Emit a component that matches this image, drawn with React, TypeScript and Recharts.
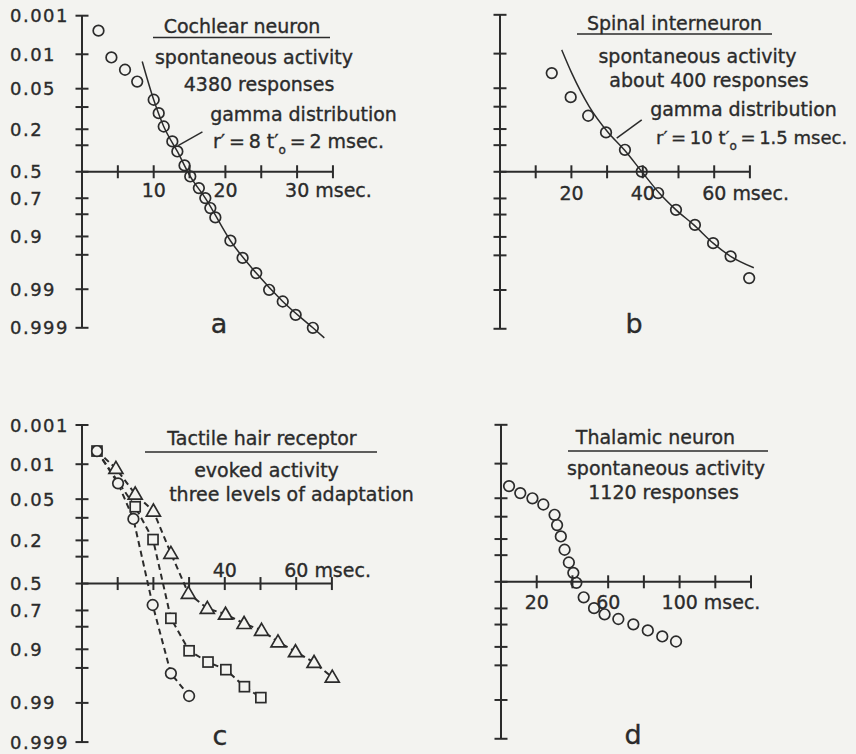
import React from "react";
import {
  ComposedChart,
  Line,
  Scatter,
  XAxis,
  YAxis,
  ReferenceLine,
  ReferenceDot,
} from "recharts";

const INK = "#2b2b2b";
const PAPER = "#f3f3f0";
const FONT = "'DejaVu Sans', sans-serif";

// probability-paper scale (0.001 .. 0.999)
const probTicks = [0.001, 0.01, 0.05, 0.1, 0.2, 0.3, 0.5, 0.7, 0.8, 0.9, 0.95, 0.99, 0.999];
const probLabels = ["0.001", "0.01", "0.05", "", "0.2", "", "0.5", "0.7", "", "0.9", "", "0.99", "0.999"];

// a: cochlear neuron
const cochlearMs = [2.3, 4.1, 6.0, 7.7, 10.0, 10.7, 11.4, 12.6, 13.3, 14.3, 15.1, 16.3, 17.2, 17.9, 18.6, 20.7, 22.4, 24.3, 26.1, 28.0, 29.8, 32.2];
const cochlearP = [0.0026, 0.0118, 0.0217, 0.037, 0.077, 0.123, 0.185, 0.274, 0.344, 0.45, 0.537, 0.627, 0.699, 0.764, 0.817, 0.914, 0.956, 0.9776, 0.9903, 0.9949, 0.9977, 0.999];
const cochlearFitMs = [8.4, 10.0, 11.4, 13.3, 15.1, 17.2, 20.7, 24.3, 28.0, 32.2, 33.8];
const cochlearFitP = [0.0145, 0.077, 0.185, 0.344, 0.537, 0.699, 0.914, 0.9776, 0.9949, 0.999, 0.9995];
const cochlearLeaderMs = [16.8, 13.4];
const cochlearLeaderP = [0.215, 0.303];

// b: spinal interneuron
const spinalMs = [14.5, 19.8, 24.7, 29.7, 35.0, 39.7, 44.3, 49.3, 54.6, 59.7, 64.6, 69.8];
const spinalP = [0.026, 0.0708, 0.135, 0.219, 0.3325, 0.498, 0.662, 0.773, 0.852, 0.92, 0.952, 0.9818];
const spinalFitMs = [17.3, 20.1, 25.0, 30.3, 34.8, 39.7, 44.6, 49.3, 54.3, 59.7, 64.6, 71.1];
const spinalFitP = [0.0082, 0.026, 0.0994, 0.2195, 0.3325, 0.498, 0.662, 0.773, 0.852, 0.92, 0.952, 0.9706];
const spinalLeaderMs = [39.7, 32.7];
const spinalLeaderP = [0.153, 0.254];

// c: tactile hair receptor, three levels of adaptation
const hairFastMs = [4.2, 10.1, 14.4, 19.8, 24.9, 30.0];
const hairFastP = [0.0049, 0.0254, 0.104, 0.662, 0.96, 0.9858];
const hairMidMs = [4.2, 14.9, 19.9, 24.9, 30.0, 35.3, 40.3, 45.5, 50.1];
const hairMidP = [0.0049, 0.0672, 0.1955, 0.751, 0.905, 0.937, 0.9534, 0.9778, 0.9869];
const hairSlowMs = [4.2, 9.5, 14.9, 20.0, 24.9, 29.8, 35.1, 40.2, 45.4, 50.3, 54.9, 59.8, 65.0, 70.1];
const hairSlowP = [0.0049, 0.0124, 0.0405, 0.0788, 0.278, 0.576, 0.686, 0.725, 0.782, 0.819, 0.872, 0.908, 0.938, 0.966];

// d: thalamic neuron
const thalamicMs = [4.5, 10.8, 17.6, 23.7, 30.0, 31.4, 33.5, 35.6, 38.0, 40.5, 42.2, 46.3, 52.1, 58.0, 65.7, 74.1, 82.2, 90.3, 98.0];
const thalamicP = [0.0298, 0.0404, 0.0501, 0.064, 0.0936, 0.132, 0.186, 0.264, 0.352, 0.43, 0.508, 0.62, 0.698, 0.739, 0.768, 0.799, 0.831, 0.859, 0.88];

// inverse normal cdf (Acklam) -> probit position
const probit = (p: number) => {
  const a = [-39.69683028665376, 220.9460984245205, -275.9285104469687, 138.357751867269, -30.66479806614716, 2.506628277459239];
  const b = [-54.47609879822406, 161.5858368580409, -155.6989798598866, 66.80131188771972, -13.28068155288572];
  const c = [-0.007784894002430293, -0.3223964580411365, -2.400758277161838, -2.549732539343734, 4.374664141464968, 2.938163982698783];
  const d = [0.007784695709041462, 0.3224671290700398, 2.445134137142996, 3.754408661907416];
  const lo = 0.02425;
  if (p < lo) {
    const q = Math.sqrt(-2 * Math.log(p));
    return (((((c[0] * q + c[1]) * q + c[2]) * q + c[3]) * q + c[4]) * q + c[5]) / ((((d[0] * q + d[1]) * q + d[2]) * q + d[3]) * q + 1);
  }
  if (p > 1 - lo) {
    const q = Math.sqrt(-2 * Math.log(1 - p));
    return -(((((c[0] * q + c[1]) * q + c[2]) * q + c[3]) * q + c[4]) * q + c[5]) / ((((d[0] * q + d[1]) * q + d[2]) * q + d[3]) * q + 1);
  }
  const q = p - 0.5;
  const r = q * q;
  return ((((((a[0] * r + a[1]) * r + a[2]) * r + a[3]) * r + a[4]) * r + a[5]) * q) / (((((b[0] * r + b[1]) * r + b[2]) * r + b[3]) * r + b[4]) * r + 1);
};

type Pt = { x: number; z: number };
const toPts = (ms: number[], p: number[]): Pt[] => ms.map((x, i) => ({ x, z: probit(p[i]) }));

const zTicks = probTicks.map(probit);

const ProbTick = (props: any) => {
  const { x, y, payload, showLabel } = props;
  const i = zTicks.findIndex((t) => Math.abs(t - payload.value) < 1e-6);
  const label = probLabels[i];
  return (
    <g>
      <line x1={x - 6.5} x2={x + 6.5} y1={y} y2={y} stroke={INK} strokeWidth={2} />
      {showLabel && label ? (
        <text
          x={x - 72}
          y={y + 6.5}
          fontSize={18}
          fontFamily={FONT}
          fill={INK}
          stroke={INK}
          strokeWidth={0.35}
          letterSpacing={1.5}
        >
          {label}
        </text>
      ) : null}
    </g>
  );
};

const XTick = ({ cx, cy, label, dy }: { cx: number; cy: number; label?: string; dy: number }) => {
  const numLen = label ? label.split(" ")[0].length : 0;
  return (
    <g>
      <line x1={cx} x2={cx} y1={cy - 6.5} y2={cy + 6.5} stroke={INK} strokeWidth={2} />
      {label ? (
        <text
          x={cx - numLen * 6}
          y={cy + dy}
          fontSize={19}
          fontFamily={FONT}
          fill={INK}
          stroke={INK}
          strokeWidth={0.35}
          style={{ whiteSpace: "pre" }}
        >
          {label}
        </text>
      ) : null}
    </g>
  );
};

const openCircle = (p: any) => (
  <circle key={`c${p.index}`} cx={p.cx} cy={p.cy} r={5.3} fill="none" stroke={INK} strokeWidth={1.7} />
);
const paperCircle = (p: any) => (
  <circle key={`c${p.index}`} cx={p.cx} cy={p.cy} r={5.3} fill={PAPER} stroke={INK} strokeWidth={1.7} />
);
const paperSquare = (p: any) => (
  <rect key={`s${p.index}`} x={p.cx - 5} y={p.cy - 5} width={10} height={10} fill={PAPER} stroke={INK} strokeWidth={1.7} />
);
const paperTriangle = (p: any) =>
  p.index === 0 ? (
    <g key={`t${p.index}`} />
  ) : (
    <polygon
      key={`t${p.index}`}
      points={`${p.cx},${p.cy - 7} ${p.cx + 7},${p.cy + 5} ${p.cx - 7},${p.cy + 5}`}
      fill={PAPER}
      stroke={INK}
      strokeWidth={1.7}
    />
  );

interface PanelCfg {
  axisX: number;
  zeroY: number;
  pxZ: number;
  pxX: number;
  xMax: number;
  axisEnd: number;
  xTicks: number[];
  xLabels: Record<number, string>;
  labelDy: number;
  showY: boolean;
}

const RIGHT = 80;

const Panel = ({ cfg, children }: { cfg: PanelCfg; children: React.ReactNode }) => {
  const h = 7 * cfg.pxZ;
  const w = 82 + cfg.xMax * cfg.pxX + RIGHT;
  return (
    <div style={{ position: "absolute", left: cfg.axisX - 82, top: cfg.zeroY - h / 2 }}>
      <ComposedChart width={w} height={h} margin={{ top: 0, right: RIGHT, bottom: 0, left: 0 }}>
        <XAxis type="number" dataKey="x" domain={[0, cfg.xMax]} hide />
        <YAxis
          type="number"
          dataKey="z"
          domain={[-3.5, 3.5]}
          reversed
          width={82}
          ticks={zTicks}
          interval={0}
          axisLine={false}
          tickLine={false}
          tickSize={0}
          tickMargin={0}
          tick={(p: any) => <ProbTick {...p} showLabel={cfg.showY} />}
        />
        <ReferenceLine
          segment={[{ x: 0, y: zTicks[0] }, { x: 0, y: zTicks[zTicks.length - 1] }]}
          stroke={INK}
          strokeWidth={2}
          ifOverflow="visible"
        />
        <ReferenceLine
          segment={[{ x: 0, y: 0 }, { x: cfg.axisEnd, y: 0 }]}
          stroke={INK}
          strokeWidth={2}
          ifOverflow="visible"
        />
        {cfg.xTicks.map((t) => (
          <ReferenceDot
            key={`xt${t}`}
            x={t}
            y={0}
            r={0}
            ifOverflow="visible"
            shape={(p: any) => <XTick cx={p.cx} cy={p.cy} label={cfg.xLabels[t]} dy={cfg.labelDy} />}
          />
        ))}
        {children}
      </ComposedChart>
    </div>
  );
};

const leader = (ms: number[], p: number[]) => [
  { x: ms[0], y: probit(p[0]) },
  { x: ms[1], y: probit(p[1]) },
];

const txt = { fontFamily: FONT, fontSize: 19, fill: INK, stroke: INK, strokeWidth: 0.35 };

const App = () => {
  const cfgA: PanelCfg = {
    axisX: 82, zeroY: 172, pxZ: 50.5, pxX: 7.17, xMax: 36, axisEnd: 35,
    xTicks: [5, 10, 15, 20, 25, 30, 35], xLabels: { 10: "10", 20: "20", 30: "30 msec." }, labelDy: 25, showY: true,
  };
  const cfgB: PanelCfg = {
    axisX: 500, zeroY: 172, pxZ: 50.8, pxX: 3.57, xMax: 72, axisEnd: 70,
    xTicks: [10, 20, 30, 40, 50, 60, 70], xLabels: { 20: "20", 40: "40", 60: "60 msec." }, labelDy: 28, showY: false,
  };
  const cfgC: PanelCfg = {
    axisX: 82, zeroY: 583.5, pxZ: 51.3, pxX: 3.57, xMax: 72, axisEnd: 70,
    xTicks: [10, 20, 30, 40, 50, 60, 70], xLabels: { 40: "40", 60: "60 msec." }, labelDy: -6.5, showY: true,
  };
  const cfgD: PanelCfg = {
    axisX: 501, zeroY: 582, pxZ: 50.8, pxX: 1.786, xMax: 144, axisEnd: 140,
    xTicks: [20, 40, 60, 80, 100, 120, 140], xLabels: { 20: "20", 60: "60", 100: "100 msec." }, labelDy: 27.5, showY: false,
  };

  return (
    <div
      style={{
        position: "absolute",
        left: 0,
        top: 0,
        width: 856,
        height: 754,
        overflow: "hidden",
        background: PAPER,
        fontFamily: FONT,
      }}
    >
      <Panel cfg={cfgA}>
        <ReferenceLine segment={leader(cochlearLeaderMs, cochlearLeaderP)} stroke={INK} strokeWidth={1.5} ifOverflow="visible" />
        <Line data={toPts(cochlearFitMs, cochlearFitP)} dataKey="z" type="monotone" stroke={INK} strokeWidth={1.5} dot={false} isAnimationActive={false} />
        <Scatter data={toPts(cochlearMs, cochlearP)} shape={openCircle} isAnimationActive={false} />
      </Panel>

      <Panel cfg={cfgB}>
        <ReferenceLine segment={leader(spinalLeaderMs, spinalLeaderP)} stroke={INK} strokeWidth={1.5} ifOverflow="visible" />
        <Line data={toPts(spinalFitMs, spinalFitP)} dataKey="z" type="monotone" stroke={INK} strokeWidth={1.5} dot={false} isAnimationActive={false} />
        <Scatter data={toPts(spinalMs, spinalP)} shape={openCircle} isAnimationActive={false} />
      </Panel>

      <Panel cfg={cfgC}>
        <Line data={toPts(hairSlowMs, hairSlowP)} dataKey="z" type="linear" stroke={INK} strokeWidth={2} strokeDasharray="6 4" dot={paperTriangle} isAnimationActive={false} />
        <Line data={toPts(hairMidMs, hairMidP)} dataKey="z" type="linear" stroke={INK} strokeWidth={2} strokeDasharray="6 4" dot={paperSquare} isAnimationActive={false} />
        <Line data={toPts(hairFastMs, hairFastP)} dataKey="z" type="linear" stroke={INK} strokeWidth={2} strokeDasharray="6 4" dot={paperCircle} isAnimationActive={false} />
      </Panel>

      <Panel cfg={cfgD}>
        <Scatter data={toPts(thalamicMs, thalamicP)} shape={openCircle} isAnimationActive={false} />
      </Panel>

      <svg width={856} height={754} style={{ position: "absolute", left: 0, top: 0, pointerEvents: "none" }}>
        <g style={{ whiteSpace: "pre" }} {...txt}>
          {/* a */}
          <text x={242} y={33} textAnchor="middle">Cochlear neuron</text>
          <line x1={153} x2={330} y1={37.5} y2={37.5} stroke={INK} strokeWidth={1.6} />
          <text x={254} y={64} textAnchor="middle">spontaneous activity</text>
          <text x={259} y={90.5} textAnchor="middle">4380 responses</text>
          <text x={303.5} y={120.5} textAnchor="middle">gamma distribution</text>
          <text x={213} y={148}>
            {"r′\u2009=\u20098  t′"}
            <tspan dy={6} fontSize={12}>o</tspan>
            <tspan dy={-6}>{"\u2009=\u20092 msec."}</tspan>
          </text>
          <text x={219} y={333} textAnchor="middle" fontSize={27}>a</text>

          {/* b */}
          <text x={674.5} y={30} textAnchor="middle">Spinal interneuron</text>
          <line x1={577} x2={772} y1={34} y2={34} stroke={INK} strokeWidth={1.6} />
          <text x={697.5} y={63} textAnchor="middle">spontaneous activity</text>
          <text x={709} y={87} textAnchor="middle">about 400 responses</text>
          <text x={743.5} y={116} textAnchor="middle">gamma distribution</text>
          <text x={656} y={144} fontSize={18}>
            {"r′\u2009=\u200910  t′"}
            <tspan dy={6} fontSize={12}>o</tspan>
            <tspan dy={-6}>{"\u2009=\u20091.5 msec."}</tspan>
          </text>
          <text x={634} y={333} textAnchor="middle" fontSize={27}>b</text>

          {/* c */}
          <text x={262} y={445} textAnchor="middle">Tactile hair receptor</text>
          <line x1={145} x2={377} y1={452} y2={452} stroke={INK} strokeWidth={1.6} />
          <text x={266.5} y={477} textAnchor="middle">evoked activity</text>
          <text x={291.5} y={501} textAnchor="middle">three levels of adaptation</text>
          <text x={220} y={745} textAnchor="middle" fontSize={27}>c</text>

          {/* d */}
          <text x={655.5} y={443.5} textAnchor="middle">Thalamic neuron</text>
          <line x1={568} x2={768} y1={451} y2={451} stroke={INK} strokeWidth={1.6} />
          <text x={666} y={475} textAnchor="middle">spontaneous activity</text>
          <text x={663.5} y={499} textAnchor="middle">1120 responses</text>
          <text x={633} y={744} textAnchor="middle" fontSize={27}>d</text>
        </g>
      </svg>
    </div>
  );
};

export default App;
